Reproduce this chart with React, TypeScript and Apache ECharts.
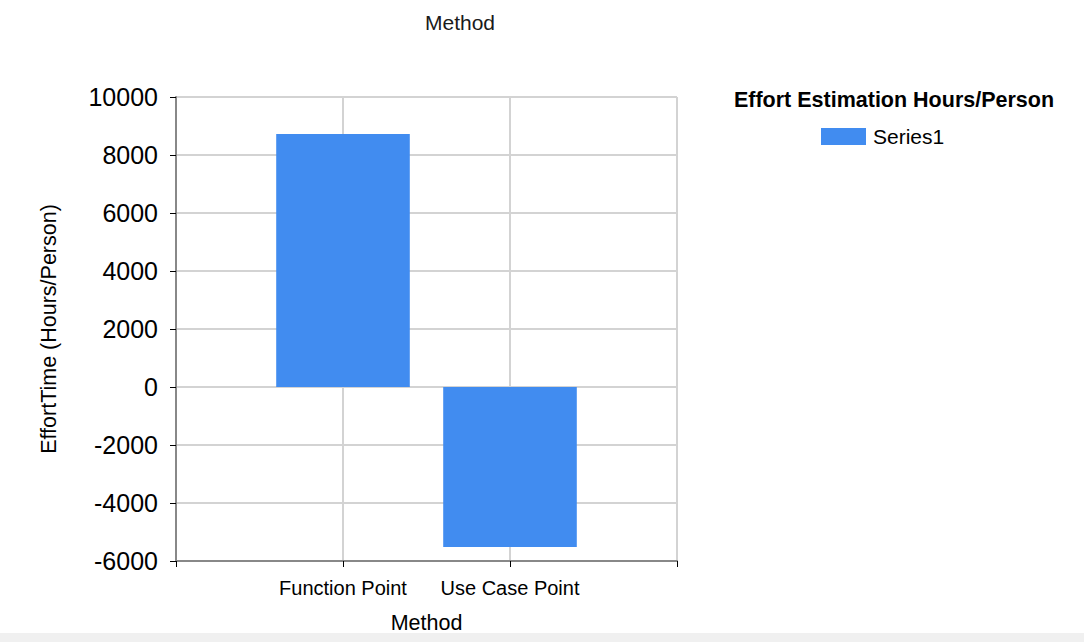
import React, { useEffect, useRef } from "react";
import * as echarts from "echarts";

const categories = ["Function Point", "Use Case Point"];
const effortValues = [8720, -5515];
const yTicks = { min: -6000, max: 10000, interval: 2000 };
const seriesName = "Series1";
const legendTitle = "Effort Estimation Hours/Person";
const chartTitle = "Method";
const xAxisName = "Method";
const yAxisName = "EffortTime (Hours/Person)";

const FONT = "'Liberation Sans', Arial, sans-serif";

export default function App() {
  const ref = useRef<HTMLDivElement>(null);
  useEffect(() => {
    if (!ref.current) return;
    const chart = echarts.init(ref.current, undefined, { renderer: "svg" });
    const axisCats = ["", ...categories, ""];
    const data: any[] = ["-", ...effortValues, "-"];
    chart.setOption({
      animation: false,
      backgroundColor: "#ffffff",
      textStyle: { fontFamily: FONT },
      grid: { left: 176, top: 97, right: 407, bottom: 81, containLabel: false },
      graphic: [
        {
          type: "text",
          x: 460,
          y: 22,
          style: {
            text: chartTitle,
            fontSize: 21,
            fontFamily: FONT,
            fill: "#1a1a1a",
            align: "center",
            verticalAlign: "middle",
          },
        },
        {
          type: "text",
          x: 894,
          y: 100,
          style: {
            text: legendTitle,
            fontSize: 21.5,
            fontWeight: "bold",
            fontFamily: FONT,
            fill: "#000000",
            align: "center",
            verticalAlign: "middle",
          },
        },
        {
          type: "rect",
          shape: { x: 0, y: 633, width: 1084, height: 9 },
          style: { fill: "#f0f0f0" },
          silent: true,
        },
      ],
      legend: {
        data: [seriesName],
        left: 816,
        top: 121,
        itemWidth: 45,
        itemHeight: 17,
        icon: "rect",
        textStyle: { fontSize: 21, color: "#000", fontFamily: FONT, padding: [0, 0, 0, 2] },
      },
      xAxis: {
        type: "category",
        data: axisCats,
        boundaryGap: false,
        name: xAxisName,
        nameLocation: "middle",
        nameGap: 51,
        nameTextStyle: { fontSize: 21.5, color: "#000", fontFamily: FONT },
        axisLine: { onZero: false, lineStyle: { color: "#888888", width: 2 } },
        axisTick: { show: true, length: 6, lineStyle: { color: "#000" }, alignWithLabel: true },
        axisLabel: { fontSize: 20, color: "#000", margin: 17, interval: 0 },
        splitLine: { show: true, lineStyle: { color: "#d3d3d3", width: 2 } },
      },
      yAxis: {
        type: "value",
        min: yTicks.min,
        max: yTicks.max,
        interval: yTicks.interval,
        name: yAxisName,
        nameLocation: "middle",
        nameGap: 116,
        nameRotate: 90,
        nameTextStyle: { fontSize: 21.5, color: "#000", fontFamily: FONT },
        axisLine: { show: true, lineStyle: { color: "#888888", width: 2 } },
        axisTick: { show: true, length: 6, lineStyle: { color: "#000" } },
        axisLabel: {
          fontSize: 25,
          color: "#000",
          margin: 18,
          formatter: (v: number) => String(v),
        },
        splitLine: { show: true, lineStyle: { color: "#d3d3d3", width: 2 } },
      },
      series: [
        {
          name: seriesName,
          type: "bar",
          data,
          barWidth: "80%",
          itemStyle: { color: "#418CF0" },
        },
      ],
    });
    return () => chart.dispose();
  }, []);
  return (
    <div
      ref={ref}
      style={{ position: "fixed", left: 0, top: 0, width: 1084, height: 642 }}
    />
  );
}
